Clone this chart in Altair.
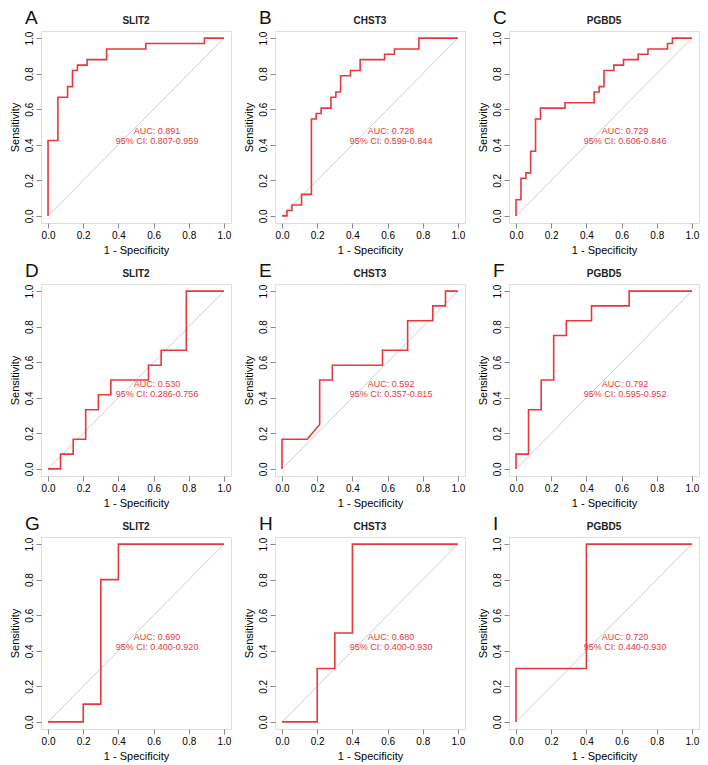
import altair as alt
import pandas as pd

letters = ["A", "B", "C", "D", "E", "F", "G", "H", "I"]
genes = ["SLIT2", "CHST3", "PGBD5", "SLIT2", "CHST3", "PGBD5", "SLIT2", "CHST3", "PGBD5"]
auc_text = ["AUC: 0.891", "AUC: 0.728", "AUC: 0.729",
            "AUC: 0.530", "AUC: 0.592", "AUC: 0.792",
            "AUC: 0.690", "AUC: 0.680", "AUC: 0.720"]
ci_text = ["95% CI: 0.807-0.959", "95% CI: 0.599-0.844", "95% CI: 0.606-0.846",
           "95% CI: 0.286-0.756", "95% CI: 0.357-0.815", "95% CI: 0.595-0.952",
           "95% CI: 0.400-0.920", "95% CI: 0.400-0.930", "95% CI: 0.440-0.930"]

# ROC curves (1 - specificity, sensitivity)
fpr_A = [0, 0, 0.056, 0.056, 0.111, 0.111, 0.139, 0.139, 0.167, 0.167, 0.222, 0.222, 0.333, 0.333, 0.556, 0.556, 0.889, 0.889, 1.0]
tpr_A = [0, 0.424, 0.424, 0.667, 0.667, 0.727, 0.727, 0.818, 0.818, 0.848, 0.848, 0.879, 0.879, 0.939, 0.939, 0.970, 0.970, 1.0, 1.0]

fpr_B = [0, 0.028, 0.028, 0.056, 0.056, 0.111, 0.111, 0.167, 0.167, 0.194, 0.194, 0.222, 0.222, 0.278, 0.278, 0.306, 0.306, 0.333, 0.333, 0.389, 0.389, 0.444, 0.444, 0.583, 0.583, 0.639, 0.639, 0.778, 0.778, 1.0]
tpr_B = [0, 0, 0.030, 0.030, 0.061, 0.061, 0.121, 0.121, 0.545, 0.545, 0.576, 0.576, 0.606, 0.606, 0.667, 0.667, 0.697, 0.697, 0.788, 0.788, 0.818, 0.818, 0.879, 0.879, 0.909, 0.909, 0.939, 0.939, 1.0, 1.0]

fpr_C = [0, 0, 0.028, 0.028, 0.056, 0.056, 0.083, 0.083, 0.111, 0.111, 0.139, 0.139, 0.278, 0.278, 0.444, 0.444, 0.472, 0.472, 0.5, 0.5, 0.556, 0.556, 0.611, 0.611, 0.694, 0.694, 0.75, 0.75, 0.861, 0.861, 0.889, 0.889, 1.0]
tpr_C = [0, 0.091, 0.091, 0.212, 0.212, 0.242, 0.242, 0.364, 0.364, 0.545, 0.545, 0.606, 0.606, 0.636, 0.636, 0.697, 0.697, 0.727, 0.727, 0.818, 0.818, 0.848, 0.848, 0.879, 0.879, 0.909, 0.909, 0.939, 0.939, 0.970, 0.970, 1.0, 1.0]

fpr_D = [0, 0.071, 0.071, 0.143, 0.143, 0.214, 0.214, 0.286, 0.286, 0.357, 0.357, 0.571, 0.571, 0.643, 0.643, 0.786, 0.786, 1.0]
tpr_D = [0, 0, 0.083, 0.083, 0.167, 0.167, 0.333, 0.333, 0.417, 0.417, 0.5, 0.5, 0.583, 0.583, 0.667, 0.667, 1.0, 1.0]

fpr_E = [0, 0, 0.143, 0.214, 0.214, 0.286, 0.286, 0.571, 0.571, 0.714, 0.714, 0.857, 0.857, 0.929, 0.929, 1.0]
tpr_E = [0, 0.167, 0.167, 0.25, 0.5, 0.5, 0.583, 0.583, 0.667, 0.667, 0.833, 0.833, 0.917, 0.917, 1.0, 1.0]

fpr_F = [0, 0, 0.071, 0.071, 0.143, 0.143, 0.214, 0.214, 0.286, 0.286, 0.429, 0.429, 0.643, 0.643, 1.0]
tpr_F = [0, 0.083, 0.083, 0.333, 0.333, 0.5, 0.5, 0.75, 0.75, 0.833, 0.833, 0.917, 0.917, 1.0, 1.0]

fpr_G = [0, 0.2, 0.2, 0.3, 0.3, 0.4, 0.4, 1.0]
tpr_G = [0, 0, 0.1, 0.1, 0.8, 0.8, 1.0, 1.0]

fpr_H = [0, 0.2, 0.2, 0.3, 0.3, 0.4, 0.4, 1.0]
tpr_H = [0, 0, 0.3, 0.3, 0.5, 0.5, 1.0, 1.0]

fpr_I = [0, 0, 0.4, 0.4, 1.0]
tpr_I = [0, 0.3, 0.3, 1.0, 1.0]

fprs = [fpr_A, fpr_B, fpr_C, fpr_D, fpr_E, fpr_F, fpr_G, fpr_H, fpr_I]
tprs = [tpr_A, tpr_B, tpr_C, tpr_D, tpr_E, tpr_F, tpr_G, tpr_H, tpr_I]

diag_x = [0, 1]
diag_y = [0, 1]
tick_values = [0.0, 0.2, 0.4, 0.6, 0.8, 1.0]

RED = "#e8383d"
FONT = "Liberation Sans"
W = 190
H = 192


def panel(i):
    df = pd.DataFrame({"fpr": fprs[i], "tpr": tprs[i], "idx": list(range(len(fprs[i])))})
    ddf = pd.DataFrame({"fpr": diag_x, "tpr": diag_y})
    xs = alt.Scale(domain=[-0.04, 1.04], nice=False, zero=False)
    ys = alt.Scale(domain=[-0.04, 1.04], nice=False, zero=False)
    xax = alt.Axis(values=tick_values, tickCount=len(tick_values), format=".1f",
                   title="1 - Specificity", domain=False, grid=False, titlePadding=4,
                   titleFontWeight="normal", labelOverlap=False, labelFlush=False,
                   labelSeparation=0)
    yax = alt.Axis(values=tick_values, tickCount=len(tick_values), format=".1f",
                   title="Sensitivity", domain=False, grid=False, labelAngle=270,
                   labelAlign="center", labelBaseline="bottom", titlePadding=4,
                   titleFontWeight="normal", labelOverlap=False, labelFlush=False,
                   labelSeparation=0)
    xenc = alt.X("fpr:Q", scale=xs, axis=xax)
    yenc = alt.Y("tpr:Q", scale=ys, axis=yax)
    diag = alt.Chart(ddf).mark_line(color="#cfcfcf", strokeWidth=1).encode(x=xenc, y=yenc)
    roc = alt.Chart(df).mark_line(color=RED, strokeWidth=1.6).encode(
        x=alt.X("fpr:Q", axis=xax), y=alt.Y("tpr:Q", axis=yax), order="idx:Q")
    t1 = alt.Chart(pd.DataFrame({"t": [auc_text[i]]})).mark_text(
        color=RED, fontSize=9, font=FONT, align="center", baseline="middle").encode(
        x=alt.datum(0.62), y=alt.datum(0.475), text="t:N")
    t2 = alt.Chart(pd.DataFrame({"t": [ci_text[i]]})).mark_text(
        color=RED, fontSize=9, font=FONT, align="center", baseline="middle").encode(
        x=alt.datum(0.62), y=alt.datum(0.42), text="t:N")
    ttl = alt.Chart(pd.DataFrame({"t": [genes[i]]})).mark_text(
        color="#222222", fontSize=10, fontWeight="bold", font=FONT,
        align="center", baseline="middle").encode(
        x=alt.value(W / 2), y=alt.value(-10), text="t:N")
    let = alt.Chart(pd.DataFrame({"t": [letters[i]]})).mark_text(
        color="#111111", fontSize=19, font=FONT, align="left", baseline="alphabetic").encode(
        x=alt.value(-16), y=alt.value(-7), text="t:N")
    return alt.layer(diag, roc, t1, t2, ttl, let).properties(width=W, height=H)


rows = [alt.hconcat(*[panel(r * 3 + c) for c in range(3)], spacing=10) for r in range(3)]
chart = alt.vconcat(*rows, spacing=5).properties(padding=0).configure_view(
    stroke="#7a7a7a", strokeWidth=1
).configure_axis(
    labelFont=FONT, labelFontSize=9, labelColor="#444444",
    titleFont=FONT, titleFontSize=9, titleFontWeight="normal", titleColor="#444444",
    tickColor="#666666", tickSize=4, labelPadding=2, labelOverlap=False
).configure(background="white")

chart.save("out.html", embed_options={"renderer": "svg", "actions": False})
